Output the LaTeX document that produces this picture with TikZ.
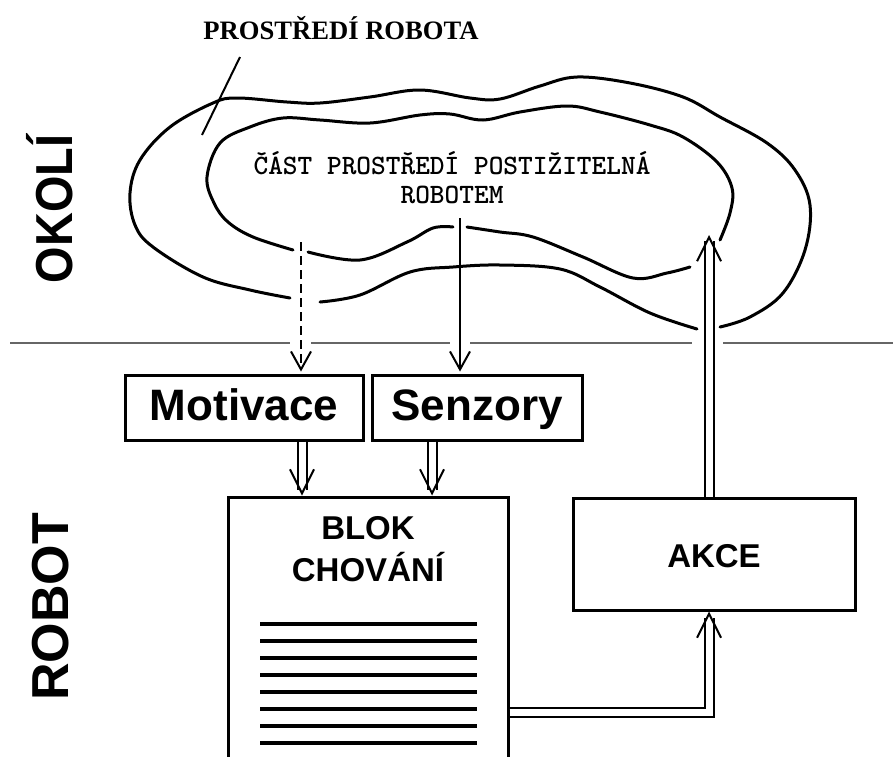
\documentclass[tikz,border=0pt]{standalone}
\usepackage{fontspec}
\setmainfont{Liberation Sans}
\newfontfamily\timesfont{Liberation Serif}
\usetikzlibrary{arrows.meta}

\tikzset{
  blockbox/.style={draw, line width=1.5pt, inner sep=0pt, text height=15pt, text depth=2pt,
    font=\fontsize{22}{26}\selectfont\bfseries},
  cloudline/.style={line width=1.5pt, line cap=round, line join=round},
  sig/.style={line width=1pt, -{Straight Barb[length=9pt,width=10pt]}},
  dbl/.style={double, double distance=3.5pt, line width=1pt, shorten >=3pt},
  dblhead/.style={line width=1pt, -{Straight Barb[length=12pt,width=12pt]}},
  divider/.style={line width=1pt, black!60},
  sidelabel/.style={rotate=90, font=\fontsize{26}{30}\selectfont\bfseries},
}

\begin{document}
\begin{tikzpicture}[x=0.5pt, y=-0.5pt]

    \useasboundingbox (0,0) rectangle (893,756);
    \clip (0,0) rectangle (893,756);

    % Titles
    \node[font=\timesfont\fontsize{13.3}{15}\selectfont\bfseries] (prostredi) at (341,28) {PROSTŘEDÍ ROBOTA};
    \node[sidelabel, xscale=0.9] (okoli) at (50,209) {OKOLÍ};
    \node[sidelabel] (robot) at (51,607) {ROBOT};

    % Outer cloud
    \draw[cloudline] plot[smooth, tension=0.6] coordinates {(320,302) (360,295) (410,272) (453,267) (500,265) (560,269) (600,287) (650,313) (697,329)};
    \draw[cloudline] plot[smooth, tension=0.6] coordinates {(720,327) (750,317) (783,293) (805,250) (810,205) (795,170) (767,143) (720,117) (683,97) (630,83) (577,77) (540,86) (500,99) (470,98) (420,90) (370,97) (320,103) (287,102) (237,98) (213,103) (170,127) (140,160) (130,193) (135,225) (153,247) (203,277) (250,290) (290,298)};

    % Inner cloud
    \draw[cloudline] plot[smooth, tension=0.6] coordinates {(720,240) (730,213) (732,188) (717,162) (683,137) (650,125) (600,112) (567,106) (520,112) (483,120) (450,114) (420,115) (370,123) (320,120) (283,118) (250,127) (220,143) (207,177) (214,203) (228,222) (253,237) (293,250)};
    \draw[cloudline] plot[smooth, tension=0.6] coordinates {(308,252) (360,260) (407,242) (433,228) (453,227)};
    \draw[cloudline] plot[smooth, tension=0.6] coordinates {(467,227) (500,232) (533,237) (583,257) (633,278) (667,273) (690,267)};

    \node[font=\ttfamily\fontsize{14}{14.5}\selectfont\bfseries, align=center] (cast) at (452,177.5) {ČÁST PROSTŘEDÍ POSTIŽITELNÁ\\ROBOTEM};

    % Pointer to the environment
    \coordinate (ptra) at (240,57);
    \coordinate (ptrb) at (202,135);
    \draw[line width=1pt] (ptra) -- (ptrb);

    % Border between environment and robot
    \draw[divider] (10,343) -- (290,343);
    \draw[divider] (311,343) -- (450,343);
    \draw[divider] (470,343) -- (692,343);
    \draw[divider] (723,343) -- (893,343);

    % Blocks
    \node[blockbox, minimum width=119pt, minimum height=32.5pt] (mot) at (244,407.5) {Motivace};
    \node[blockbox, minimum width=105pt, minimum height=32.5pt] (senz) at (477,407.5) {Senzory};
    \node[blockbox, minimum width=140pt, minimum height=145pt] (blok) at (368,642) {};
    \node[blockbox, minimum width=141pt, minimum height=56pt, font=\fontsize{16.5}{20}\selectfont\bfseries] (akce) at (714,554) {AKCE};
    \node[font=\fontsize{16.5}{21}\selectfont\bfseries, align=center] (bloktext) at (368,549) {BLOK\\CHOVÁNÍ};

    % Rules of the behaviour block
    \foreach \i in {0,...,7}
        \draw[line width=2pt] (260,623.5+17*\i) -- (477,623.5+17*\i);

    % Inputs from the environment
    \coordinate (dashtop) at (301,242);
    \coordinate (senztop) at (460,218);
    \draw[sig, dash pattern=on 4.5pt off 2.5pt, shorten >=1pt] (dashtop) -- (dashtop |- mot.north);
    \draw[sig, shorten >=1pt] (senztop) -- (senztop |- senz.north);

    % Double arrows into the behaviour block
    \coordinate (mx) at (302,0);
    \coordinate (sx) at (432,0);
    \coordinate (mtip) at (mx |- blok.north);
    \coordinate (stip) at (sx |- blok.north);
    \draw[dbl] (mx |- mot.south) -- (mtip);
    \draw[dblhead] ([yshift=1pt]mtip) -- (mtip);
    \draw[dbl] (sx |- senz.south) -- (stip);
    \draw[dblhead] ([yshift=1pt]stip) -- (stip);

    % Behaviour to action
    \coordinate (turn) at (709,712);
    \coordinate (atip) at (turn |- akce.south);
    \draw[dbl] (turn -| blok.east) -- (turn) -- (atip);
    \draw[dblhead] ([yshift=-1pt]atip) -- (atip);

    % Action back into the environment
    \coordinate (otip) at (709,235);
    \draw[dbl] (otip |- akce.north) -- (otip);
    \draw[dblhead] ([yshift=-1pt]otip) -- (otip);

\end{tikzpicture}
\end{document}
